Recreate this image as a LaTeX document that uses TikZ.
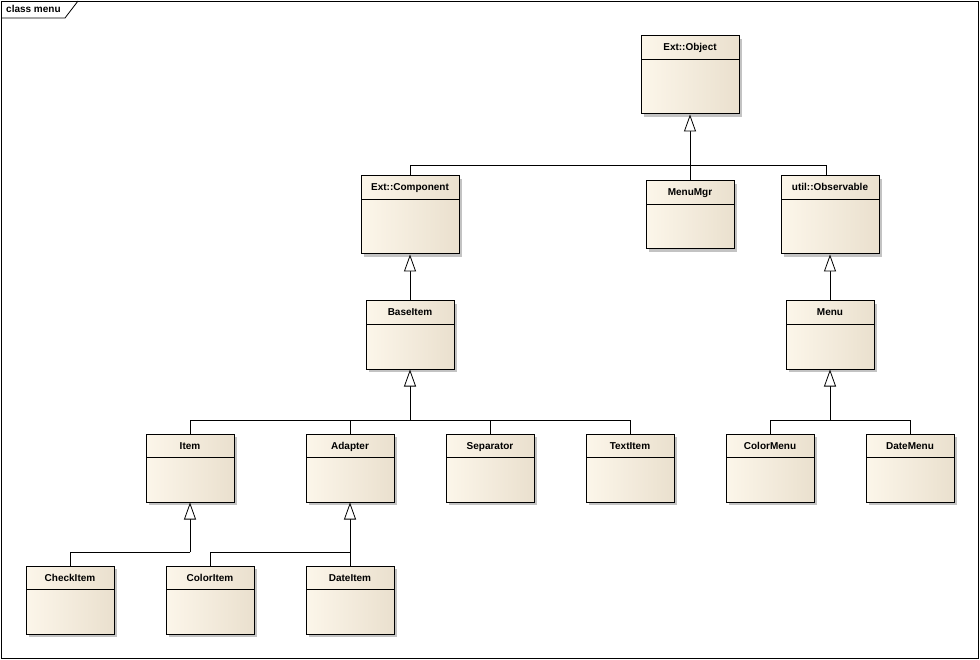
\documentclass[tikz,border=0pt]{standalone}
\usepackage{fontspec}
\setmainfont{Liberation Sans}
\usetikzlibrary{arrows.meta,shadows}
\definecolor{creamL}{RGB}{252,246,234}
\definecolor{creamR}{RGB}{234,224,206}
\definecolor{shadowgray}{RGB}{195,195,195}
\tikzset{
  cls/.style={draw=black, line width=1pt, inner sep=0pt,
    left color=creamL, right color=creamR,
    drop shadow={shadow xshift=3pt, shadow yshift=-3pt, fill=shadowgray, opacity=1},
    path picture={\draw[line width=0.8pt] ([yshift=-23pt]path picture bounding box.north west) -- ([yshift=-23pt]path picture bounding box.north east);}},
  small/.style={cls, minimum width=88pt, minimum height=68pt},
  big/.style={cls, minimum width=98pt, minimum height=78pt},
  ttl/.style={font=\fontsize{10}{12}\selectfont\bfseries, inner sep=0pt, text height=7pt, text depth=2pt},
  gen/.style={-{Triangle[length=17pt,width=12pt,fill=white,line width=0.8pt]}, line width=0.8pt},
  conn/.style={line width=0.8pt}
}
\newcommand{\clsnode}[5]{%
  \node[#1] (#2) at (#3) {};
  \node[ttl] (#2t) at ([yshift=-13pt]#2.north) {#4};
}
\begin{document}
\begin{tikzpicture}[x=1pt,y=-1pt]
\useasboundingbox (0,0) rectangle (980,660);
% frame
\draw[line width=0.8pt] (1,1) rectangle (978,658);
\draw[line width=0.8pt] (1,18) -- (65,18) -- (78,1);
\node[ttl, anchor=west] (frameLabel) at (6,10) {class menu};

\clsnode{big}{obj}{690,75}{Ext::Object}{}
\clsnode{big}{comp}{410,215}{Ext::Component}{}
\clsnode{small}{mgr}{690,215}{MenuMgr}{}
\clsnode{big}{obs}{830,215}{util::Observable}{}
\clsnode{small}{base}{410,335}{BaseItem}{}
\clsnode{small}{menu}{830,335}{Menu}{}
\clsnode{small}{item}{190,468}{Item}{}
\clsnode{small}{adapter}{350,468}{Adapter}{}
\clsnode{small}{sep}{490,468}{Separator}{}
\clsnode{small}{text}{630,468}{TextItem}{}
\clsnode{small}{cmenu}{770,468}{ColorMenu}{}
\clsnode{small}{dmenu}{910,468}{DateMenu}{}
\clsnode{small}{check}{70,600}{CheckItem}{}
\clsnode{small}{citem}{210,600}{ColorItem}{}
\clsnode{small}{ditem}{350,600}{DateItem}{}

% junctions
\coordinate (j0) at (690,165);
\coordinate (j1) at (410,420);
\coordinate (j2) at (830,420);
\coordinate (j3) at (190,552);
\coordinate (j4) at (350,552);

% Ext::Object hierarchy
\draw[conn] (comp.north) |- (j0);
\draw[conn] ([xshift=-4pt]obs.north) |- (j0);
\draw[conn] (mgr.north) -- (j0);
\draw[gen] (j0) -- (obj.south);

\draw[gen] (base.north) -- (comp.south);
\draw[gen] (menu.north) -- (obs.south);

% BaseItem hierarchy
\draw[conn] (item.north) |- (j1);
\draw[conn] (adapter.north) |- (j1);
\draw[conn] (sep.north) |- (j1);
\draw[conn] (text.north) |- (j1);
\draw[gen] (j1) -- (base.south);

% Menu hierarchy
\draw[conn] (cmenu.north) |- (j2);
\draw[conn] (dmenu.north) |- (j2);
\draw[gen] (j2) -- (menu.south);

% Item hierarchy
\draw[conn] (check.north) |- (j3);
\draw[gen] (j3) -- (item.south);

% Adapter hierarchy
\draw[conn] (citem.north) |- (j4);
\draw[conn] (ditem.north) -- (j4);
\draw[gen] (j4) -- (adapter.south);
\end{tikzpicture}
\end{document}
